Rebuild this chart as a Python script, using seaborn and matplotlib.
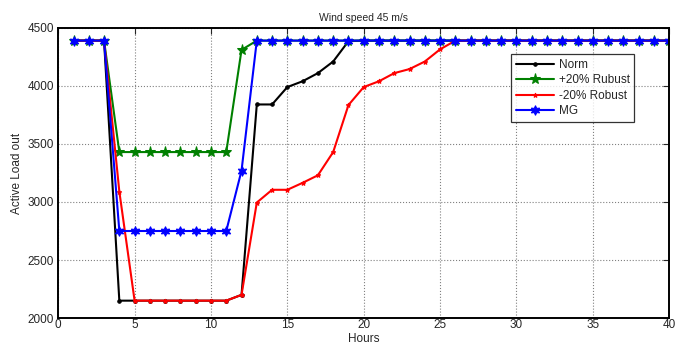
import numpy as np
import pandas as pd
import matplotlib
matplotlib.use('Agg')
import matplotlib.pyplot as plt
import seaborn as sns

# ── Data ──────────────────────────────────────────────────
hours = list(range(1, 41))

norm = [4390, 4390, 4390, 2150, 2150, 2150, 2150, 2150, 2150, 2150,
        2150, 2200, 3840, 3840, 3990, 4040, 4110, 4210, 4385, 4390,
        4390, 4390, 4390, 4390, 4390, 4390, 4390, 4390, 4390, 4390,
        4390, 4390, 4390, 4390, 4390, 4390, 4390, 4390, 4390, 4390]

plus20 = [4390, 4390, 4390, 3430, 3430, 3430, 3430, 3430, 3430, 3430,
          3430, 4310, 4390, 4390, 4390, 4390, 4390, 4390, 4390, 4390,
          4390, 4390, 4390, 4390, 4390, 4390, 4390, 4390, 4390, 4390,
          4390, 4390, 4390, 4390, 4390, 4390, 4390, 4390, 4390, 4390]

minus20 = [4390, 4390, 4390, 3090, 2150, 2150, 2150, 2150, 2150, 2150,
           2150, 2200, 2995, 3105, 3105, 3165, 3230, 3430, 3835, 3990,
           4040, 4110, 4145, 4210, 4315, 4390, 4390, 4390, 4390, 4390,
           4390, 4390, 4390, 4390, 4390, 4390, 4390, 4390, 4390, 4390]

mg = [4390, 4390, 4390, 2750, 2750, 2750, 2750, 2750, 2750, 2750,
      2750, 3270, 4390, 4390, 4390, 4390, 4390, 4390, 4390, 4390,
      4390, 4390, 4390, 4390, 4390, 4390, 4390, 4390, 4390, 4390,
      4390, 4390, 4390, 4390, 4390, 4390, 4390, 4390, 4390, 4390]

labels = ['Norm', '+20% Rubust', '-20% Robust', 'MG']

# ── Styling ───────────────────────────────────────────────
sns.set_style('white')
plt.rcParams['font.family'] = ['Liberation Sans', 'DejaVu Sans']

styles = {
    'Norm':        dict(color='black', marker='.', markersize=5),
    '+20% Rubust': dict(color='green', marker='*', markersize=8),
    '-20% Robust': dict(color='red',   marker='*', markersize=3.5),
    'MG':          dict(color='blue',  marker=(6, 1, 0), markersize=7),
}

fig, ax = plt.subplots(figsize=(6.85, 3.48), dpi=100)
fig.subplots_adjust(left=0.085, right=0.977, top=0.92, bottom=0.086)

for lab, vals in zip(labels, [norm, plus20, minus20, mg]):
    st = styles[lab]
    sns.lineplot(x=hours, y=vals, ax=ax, label=lab, color=st['color'],
                 marker=st['marker'], markersize=st['markersize'],
                 markeredgecolor=st['color'], linewidth=1.5)

ax.set_xlim(0, 40)
ax.set_ylim(2000, 4500)
ax.set_xticks(range(0, 41, 5))
ax.set_yticks(range(2000, 4501, 500))
ax.tick_params(direction='in', top=True, right=True, labelsize=8.5,
               length=4, width=0.8)
ax.tick_params(axis='x', pad=1)
ax.tick_params(axis='y', pad=3)
ax.grid(True, color='#808080', linestyle=':', linewidth=0.8)
for sp in ax.spines.values():
    sp.set_color('black')
    sp.set_linewidth(1.4)

ax.set_title('Wind speed 45 m/s', fontsize=7.5, pad=5)
ax.set_xlabel('Hours', fontsize=8.5, labelpad=1)
ax.set_ylabel('Active Load out', fontsize=8.5, labelpad=3)

leg = ax.legend(loc='upper left', bbox_to_anchor=(0.732, 0.93), fontsize=8.5,
                frameon=True, fancybox=False, edgecolor='black',
                handlelength=3.2, borderpad=0.4, labelspacing=0.3,
                handletextpad=0.4)
leg.get_frame().set_linewidth(0.9)

plt.savefig('out.png', dpi=100)
plt.close()
